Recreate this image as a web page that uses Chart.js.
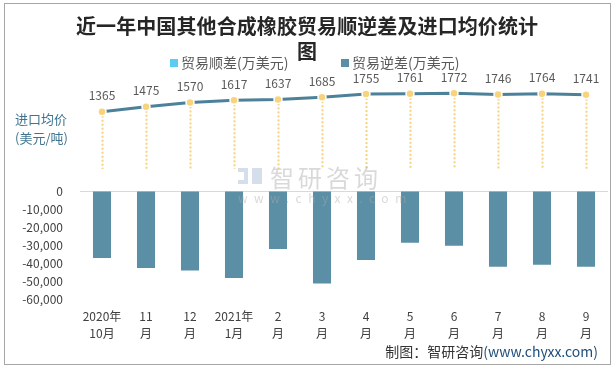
<!DOCTYPE html>
<html>
<head>
<meta charset="utf-8">
<script src="https://cdn.jsdelivr.net/npm/chart.js@4.4.1/dist/chart.umd.min.js"></script>
<style>
  html, body { margin: 0; padding: 0; background: #fff; }
  #wrap { width: 615px; height: 370px; }
</style>
</head>
<body>
<div id="wrap"><canvas id="chart" width="615" height="370"></canvas></div>
<script>
// Data
var months = [
  ['2020年', '10月'], ['11', '月'], ['12', '月'], ['2021年', '1月'],
  ['2', '月'], ['3', '月'], ['4', '月'], ['5', '月'],
  ['6', '月'], ['7', '月'], ['8', '月'], ['9', '月']
];
var surplus = [null, null, null, null, null, null, null, null, null, null, null, null];
var deficit = [-37100, -42700, -44100, -48200, -32100, -51300, -38200, -28600, -30300, -41900, -40800, -41900];
var avgPrice = [1365, 1475, 1570, 1617, 1637, 1685, 1755, 1761, 1772, 1746, 1764, 1741];
var barTicks = [0, -10000, -20000, -30000, -40000, -50000, -60000];

var titleText = '近一年中国其他合成橡胶贸易顺逆差及进口均价统计';
var titleTail = '图';
var font = '"Microsoft YaHei", "Noto Sans CJK SC", sans-serif';

// Extra drawing: title, legend, drop lines, labels, watermark, footer, frame
var decor = {
  id: 'decor',
  beforeDatasetsDraw: function(chart) {
    var ctx = chart.ctx;
    var meta = chart.getDatasetMeta(2);
    var yEnd = chart.scales.y.getPixelForValue(0) - 22;
    ctx.save();
    ctx.strokeStyle = '#f7d47f';
    ctx.lineWidth = 2;
    ctx.setLineDash([2, 2]);
    meta.data.forEach(function(pt) {
      ctx.beginPath();
      ctx.moveTo(Math.round(pt.x) + 0.5, pt.y);
      ctx.lineTo(Math.round(pt.x) + 0.5, yEnd);
      ctx.stroke();
    });
    ctx.restore();
  },
  afterDatasetsDraw: function(chart) {
    var ctx = chart.ctx;
    var meta = chart.getDatasetMeta(2);
    ctx.save();

    // value labels
    ctx.font = '12px ' + font;
    ctx.fillStyle = '#595959';
    ctx.textAlign = 'center';
    ctx.textBaseline = 'middle';
    meta.data.forEach(function(pt, i) {
      ctx.fillText(String(avgPrice[i]), pt.x, pt.y - 16);
    });

    // watermark
    ctx.fillStyle = 'rgba(170,170,170,0.45)';
    ctx.font = '24px ' + font;
    ctx.textAlign = 'left';
    ctx.letterSpacing = '4px';
    ctx.fillText('智研咨询', 270, 178);
    ctx.font = '12px ' + font;
    ctx.letterSpacing = '6.5px';
    ctx.fillText('www.chyxx.com', 238, 198);
    ctx.letterSpacing = '0px';
    ctx.fillStyle = 'rgba(150,175,205,0.4)';
    ctx.fillRect(238, 168, 10, 4);
    ctx.fillRect(244, 172, 4, 8);
    ctx.fillRect(238, 180, 10, 4);
    ctx.fillRect(252, 168, 10, 16);

    // title, spaced out to the reference width
    ctx.fillStyle = '#262626';
    ctx.textAlign = 'center';
    ctx.font = 'bold 20px ' + font;
    ctx.letterSpacing = '0px';
    var tw = ctx.measureText(titleText).width;
    var sp = Math.max(0, (462 - tw) / titleText.length);
    ctx.letterSpacing = sp.toFixed(2) + 'px';
    ctx.fillText(titleText, 307 + sp / 2, 26);
    ctx.letterSpacing = '0px';
    ctx.fillText(titleTail, 307, 51);

    // legend
    var colors = [chart.data.datasets[0].backgroundColor, chart.data.datasets[1].backgroundColor];
    var xs = [170, 341];
    ctx.font = '14px ' + font;
    ctx.textAlign = 'left';
    [0, 1].forEach(function(k) {
      ctx.fillStyle = colors[k];
      ctx.fillRect(xs[k], 59, 8, 8);
      ctx.fillStyle = '#595959';
      ctx.fillText(chart.data.datasets[k].label, xs[k] + 11, 63);
    });

    // left caption of the price line
    ctx.fillStyle = '#3f7590';
    ctx.font = '13px ' + font;
    ctx.fillText('进口均价', 15, 119);
    ctx.fillText('(美元/吨)', 15, 138);

    // footer
    ctx.font = '14px ' + font;
    ctx.textAlign = 'right';
    ctx.fillStyle = '#1f4e79';
    var src = '(www.chyxx.com)';
    ctx.fillText(src, 598, 352);
    var w = ctx.measureText(src).width;
    ctx.fillStyle = '#333333';
    ctx.fillText('制图：智研咨询', 598 - w, 352);

    // frame
    ctx.strokeStyle = '#a6a6a6';
    ctx.lineWidth = 1;
    ctx.strokeRect(4.5, 3.5, 606, 361);
    ctx.restore();
  }
};

new Chart(document.getElementById('chart'), {
  type: 'bar',
  data: {
    labels: months,
    datasets: [
      {
        label: '贸易顺差(万美元)',
        data: surplus,
        backgroundColor: '#5bcdf4',
        grouped: false,
        categoryPercentage: 1,
        barPercentage: 0.41,
        order: 2
      },
      {
        label: '贸易逆差(万美元)',
        data: deficit,
        backgroundColor: '#5b8fa6',
        grouped: false,
        categoryPercentage: 1,
        barPercentage: 0.41,
        order: 2
      },
      {
        type: 'line',
        label: '进口均价(美元/吨)',
        data: avgPrice,
        yAxisID: 'y2',
        borderColor: '#4d819a',
        borderWidth: 3,
        pointRadius: 4,
        pointBackgroundColor: '#f8d37c',
        pointBorderColor: '#ffffff',
        pointBorderWidth: 1.5,
        tension: 0,
        order: 1
      }
    ]
  },
  options: {
    responsive: false,
    animation: false,
    layout: { padding: { top: 75, right: 7, left: 4, bottom: 0 } },
    plugins: {
      legend: { display: false },
      title: { display: false },
      tooltip: { enabled: false }
    },
    scales: {
      x: {
        offset: true,
        grid: { display: false },
        border: { display: false },
        ticks: {
          color: '#404040',
          font: { size: 12, family: font, lineHeight: 1.4 },
          padding: 1,
          maxRotation: 0,
          autoSkip: false
        },
        afterFit: function(s) { s.height = 70.7; }
      },
      y: {
        min: -60000,
        max: 64300,
        afterBuildTicks: function(s) {
          s.ticks = barTicks.map(function(v) { return { value: v }; });
        },
        ticks: {
          color: '#404040',
          font: { size: 12, family: font },
          padding: 17,
          callback: function(v) { return v.toLocaleString('en-US'); }
        },
        grid: {
          drawTicks: false,
          color: function(c) { return c.tick && c.tick.value === 0 ? '#d9d9d9' : 'rgba(0,0,0,0)'; }
        },
        border: { display: false },
        afterFit: function(s) { s.width = 76; }
      },
      y2: {
        display: false,
        position: 'right',
        min: -2785,
        max: 2177
      }
    }
  },
  plugins: [decor]
});
</script>
</body>
</html>
